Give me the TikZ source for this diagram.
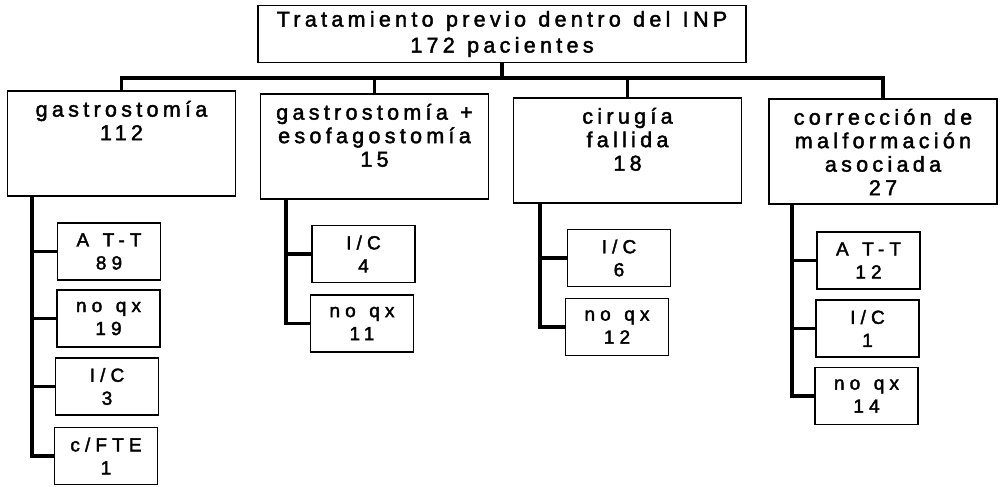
\documentclass[tikz,border=0pt]{standalone}
\usepackage{fontspec}
\newfontfamily\boxfont[LetterSpace=20,WordSpace=1.2,FakeBold=2]{Liberation Sans}
\newfontfamily\leaffont[LetterSpace=27,WordSpace=1.3,FakeBold=2]{Liberation Sans}
\usetikzlibrary{positioning,calc}

\begin{document}
\begin{tikzpicture}[x=1pt, y=-1pt,
  root/.style={draw, line width=1.6pt, minimum width=488pt, minimum height=57pt,
    align=center, inner ysep=4pt, font=\boxfont\fontsize{21.5}{26}\selectfont},
  group/.style={draw, line width=1.6pt, anchor=north, minimum width=228pt,
    inner xsep=0pt, inner ysep=10pt, font=\boxfont\fontsize{21.5}{23.5}\selectfont},
  leaf/.style={draw, line width=1.4pt, minimum width=103pt, minimum height=57pt,
    align=center, inner sep=2pt, font=\leaffont\fontsize{19}{23}\selectfont},
  trunk/.style={line width=3.6pt},
]
\useasboundingbox (0,0) rectangle (1002,487);

\node[root] (root) at (502,34) {Tratamiento previo dentro del INP\\172 pacientes};

\node[group] (gas) at (121.5,90) {\parbox[t][85pt][t]{220pt}{\centering gastrostomía\\112}};
\node[group] (gaes) at (374.5,93) {\parbox[t][85pt][t]{220pt}{\centering gastrostomía +\\esofagostomía\\15}};
\node[group] (cir) at (627.5,97) {\parbox[t][85pt][t]{220pt}{\centering cirugía\\fallida\\18}};
\node[group] (cor) at (883,98) {\parbox[t][85pt][t]{220pt}{\centering corrección de\\malformación\\asociada\\27}};

\coordinate (bar) at (502,78);
\draw[trunk] (root.south) -- (bar);
\draw[trunk] (gas.north) |- (bar) -| (cor.north);
\draw[trunk] (gaes.north) |- (bar);
\draw[trunk] (cir.north) |- (bar);

% gastrostomia
\node[leaf] (att) at (109,251.5) {A T-T\\89};
\node[leaf] (nqa) at (108.5,318.5) {no qx\\19};
\node[leaf] (ica) at (107,386.5) {I/C\\3};
\node[leaf] (fte) at (106,456) {c/FTE\\1};
% gastrostomia + esofagostomia
\node[leaf] (icb) at (363.5,254) {I/C\\4};
\node[leaf] (nqb) at (362,323.5) {no qx\\11};
% cirugia fallida
\node[leaf] (icc) at (619,258) {I/C\\6};
\node[leaf] (nqc) at (617,327) {no qx\\12};
% correccion de malformacion
\node[leaf] (atd) at (868.5,260.5) {A T-T\\12};
\node[leaf] (icd) at (867.5,328.5) {I/C\\1};
\node[leaf] (nqd) at (866.5,396) {no qx\\14};

\coordinate (gasspine) at ($(gas.south west)+(25,0)$);
\coordinate (gaesspine) at ($(gaes.south west)+(26,0)$);
\coordinate (cirspine) at ($(cir.south west)+(27,0)$);
\coordinate (corspine) at ($(cor.south west)+(24,0)$);

\foreach \c in {att,nqa,ica,fte} \draw[trunk] (gasspine) |- (\c.west);
\foreach \c in {icb,nqb} \draw[trunk] (gaesspine) |- (\c.west);
\foreach \c in {icc,nqc} \draw[trunk] (cirspine) |- (\c.west);
\foreach \c in {atd,icd,nqd} \draw[trunk] (corspine) |- (\c.west);
\end{tikzpicture}
\end{document}
